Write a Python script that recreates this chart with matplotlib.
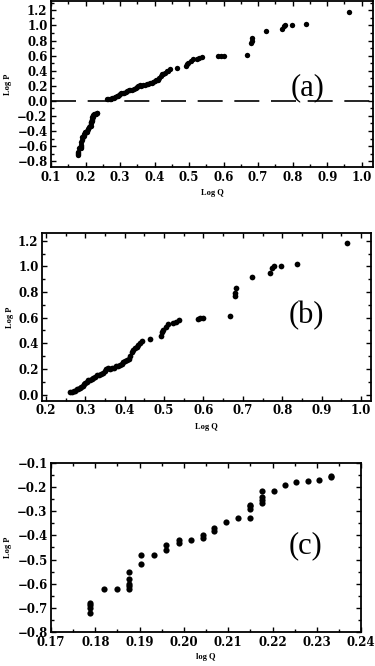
import numpy as np
import matplotlib
matplotlib.use("Agg")
import matplotlib.pyplot as plt
from matplotlib.ticker import MultipleLocator

plt.rcParams['font.family'] = ['Liberation Serif', 'DejaVu Serif']
plt.rcParams['font.weight'] = 'bold'

# log Q / log P, negative branch
q_neg = [0.1788, 0.1788, 0.1788, 0.1788, 0.1819, 0.1848,
         0.1876, 0.1876, 0.1876, 0.1876, 0.1876, 0.1904, 0.1904, 0.1933,
         0.1959, 0.1959, 0.1988, 0.1988, 0.2015, 0.2042, 0.2042,
         0.2069, 0.2069, 0.2096, 0.2123, 0.2150, 0.2150, 0.2150, 0.2150,
         0.2176, 0.2176, 0.2176, 0.2176, 0.2203, 0.2229, 0.2254, 0.2280,
         0.2305, 0.2331, 0.2331]
p_neg = [-0.68, -0.69, -0.70, -0.72, -0.62, -0.62,
         -0.55, -0.58, -0.60, -0.61, -0.62, -0.48, -0.52, -0.48,
         -0.44, -0.46, -0.42, -0.43, -0.42, -0.40, -0.41,
         -0.37, -0.38, -0.345, -0.33, -0.275, -0.28, -0.29, -0.33,
         -0.215, -0.24, -0.255, -0.265, -0.215, -0.19, -0.18, -0.175,
         -0.17, -0.16, -0.155]

# positive branch
q_pos = [0.262, 0.266, 0.270, 0.274, 0.278, 0.282, 0.286, 0.290, 0.293, 0.296,
         0.300, 0.304, 0.308, 0.312, 0.316, 0.320, 0.325, 0.330, 0.335, 0.340,
         0.345, 0.350, 0.353, 0.357, 0.362, 0.367, 0.372, 0.377, 0.382, 0.387,
         0.392, 0.396, 0.400, 0.405, 0.410, 0.414, 0.418, 0.421, 0.425, 0.430,
         0.435, 0.440, 0.445,
         0.465, 0.491, 0.494, 0.498, 0.505, 0.510, 0.522, 0.530, 0.537,
         0.585, 0.592, 0.600, 0.668, 0.680, 0.681, 0.682, 0.722,
         0.768, 0.775, 0.778, 0.797, 0.838, 0.964]
p_pos = [0.02, 0.02, 0.03, 0.03, 0.04, 0.04, 0.05, 0.06, 0.07, 0.08,
         0.09, 0.10, 0.11, 0.11, 0.12, 0.13, 0.14, 0.15, 0.15, 0.16,
         0.17, 0.18, 0.20, 0.21, 0.20, 0.21, 0.21, 0.22, 0.22, 0.23,
         0.24, 0.25, 0.26, 0.27, 0.28, 0.30, 0.33, 0.35, 0.36, 0.37,
         0.39, 0.40, 0.42,
         0.43, 0.46, 0.49, 0.50, 0.53, 0.55, 0.56, 0.57, 0.58,
         0.59, 0.60, 0.60, 0.61, 0.77, 0.79, 0.83, 0.92,
         0.95, 0.99, 1.00, 1.00, 1.02, 1.18]

# tick values
xt_a = [0.1, 0.2, 0.3, 0.4, 0.5, 0.6, 0.7, 0.8, 0.9, 1.0]
yt_a = [-0.8, -0.6, -0.4, -0.2, 0.0, 0.2, 0.4, 0.6, 0.8, 1.0, 1.2]
xt_b = [0.2, 0.3, 0.4, 0.5, 0.6, 0.7, 0.8, 0.9, 1.0]
yt_b = [0.0, 0.2, 0.4, 0.6, 0.8, 1.0, 1.2]
xt_c = [0.17, 0.18, 0.19, 0.20, 0.21, 0.22, 0.23, 0.24]
yt_c = [-0.8, -0.7, -0.6, -0.5, -0.4, -0.3, -0.2, -0.1]

q_all = np.array(q_neg + q_pos)
p_all = np.array(p_neg + p_pos)

TICKFONT = dict(family='DejaVu Serif', weight='bold', size=8.5)


def fmt(v, nd):
    s = ('%.' + str(nd) + 'f') % v
    return s.replace('-', '\u2212') if v < 0 else s


def style(ax, xt, yt, xnd, ynd, xmin, ymin):
    ax.set_xticks(xt)
    ax.set_xticklabels([fmt(v, xnd) for v in xt], fontdict=TICKFONT)
    ax.set_yticks(yt)
    ax.set_yticklabels([fmt(v, ynd) for v in yt], fontdict=TICKFONT)
    ax.xaxis.set_minor_locator(MultipleLocator(xmin))
    ax.yaxis.set_minor_locator(MultipleLocator(ymin))
    ax.tick_params(which='both', direction='in', top=True, right=True,
                   width=1.0, pad=2.5)
    ax.tick_params(which='major', length=3.5)
    ax.tick_params(which='minor', length=2)
    for s in ax.spines.values():
        s.set_linewidth(1.3)


fig = plt.figure(figsize=(3.75, 6.66), dpi=100)

# (a)
ax1 = fig.add_axes([0.136, 0.749, 0.859, 0.249])
ax1.scatter(q_all, p_all, s=15, c='black', linewidths=0, zorder=3)
ax1.axhline(0, color='black', lw=1.2, dashes=(15, 7))
style(ax1, xt_a, yt_a, 1, 1, 0.05, 0.1)
ax1.set_xlim(0.1, 1.033)
ax1.set_ylim(-0.88, 1.32)
ax1.set_xlabel('Log Q', fontsize=6, fontweight='bold', labelpad=4)
ax1.set_ylabel('Log P', fontsize=6, fontweight='bold', labelpad=4)
ax1.text(0.842, 0.17, '(a)', fontsize=22, fontweight='normal',
         ha='center', va='center')

# (b)
ax2 = fig.add_axes([0.112, 0.398, 0.877, 0.252])
m = p_all >= 0
ax2.scatter(q_all[m], p_all[m], s=17, c='black', linewidths=0, zorder=3)
style(ax2, xt_b, yt_b, 1, 1, 0.05, 0.1)
ax2.set_xlim(0.19, 1.025)
ax2.set_ylim(-0.05, 1.26)
ax2.set_xlabel('Log Q', fontsize=6, fontweight='bold', labelpad=4)
ax2.set_ylabel('Log P', fontsize=6, fontweight='bold', labelpad=3)
ax2.text(0.86, 0.62, '(b)', fontsize=22, fontweight='normal',
         ha='center', va='center')

# (c)
ax3 = fig.add_axes([0.136, 0.051, 0.827, 0.254])
m = p_all < 0
ax3.scatter(q_all[m], p_all[m], s=20, c='black', linewidths=0, zorder=3)
style(ax3, xt_c, yt_c, 2, 1, 0.005, 0.05)
ax3.set_xlim(0.17, 0.24)
ax3.set_ylim(-0.8, -0.1)
ax3.set_xlabel('log Q', fontsize=6, fontweight='bold', labelpad=3)
ax3.set_ylabel('Log P', fontsize=6, fontweight='bold', labelpad=4)
ax3.text(0.2274, -0.442, '(c)', fontsize=22, fontweight='normal',
         ha='center', va='center')

fig.savefig('out.png', dpi=100)
